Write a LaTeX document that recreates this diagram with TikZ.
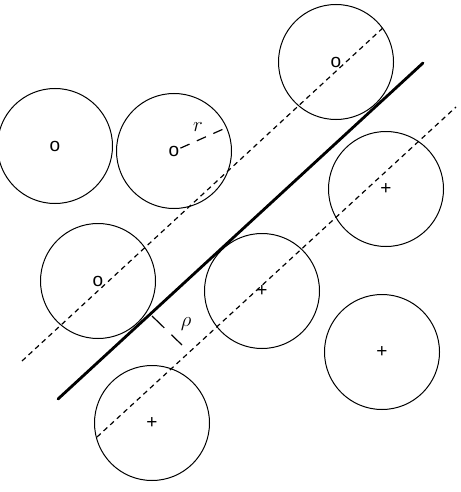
\documentclass[tikz,border=0pt]{standalone}
\usepackage{fontspec}
\setmainfont{Liberation Sans}
\usetikzlibrary{positioning}

\begin{document}
\begin{tikzpicture}[
      x=1pt, y=-1pt,
      ball/.style={draw, circle, line width=1pt, minimum size=115pt, inner sep=0pt, font=\fontsize{19}{19}\selectfont},
      plane/.style={line width=2.8pt, line cap=round},
      margin/.style={line width=1.2pt, dash pattern=on 5pt off 4pt},
      measure/.style={line width=1.2pt},
      lab/.style={font=\fontsize{21}{21}\selectfont}
    ]
    \useasboundingbox (0,0) rectangle (460,492);

    \node[ball] (o1) at (55,146) {o};
    \node[ball] (o2) at (174,151) {o};
    \node[ball] (o3) at (336,62) {o};
    \node[ball] (o4) at (98,281) {o};
    \node[ball] (p1) at (386,189) {+};
    \node[ball] (p2) at (262,291) {+};
    \node[ball] (p3) at (382,352) {+};
    \node[ball] (p4) at (152,423) {+};

    \coordinate (planeA) at (58,399);
    \coordinate (planeB) at (423,63);
    \coordinate (upA) at (22,361);
    \coordinate (upB) at (385,26);
    \coordinate (lowA) at (97,437);
    \coordinate (lowB) at (456,107);
    \coordinate (rhoA) at (152,316);
    \coordinate (rhoB) at (182,345);

    \draw[plane] (planeA) -- (planeB);
    \draw[margin] (upA) -- (upB);
    \draw[margin] (lowA) -- (lowB);

    \draw[measure, dash pattern=on 17pt off 10pt] (rhoA) -- (rhoB);
    \node[lab] (rholab) at (186,324) {$\rho$};

    \draw[measure, dash pattern=on 10pt off 8pt, shorten <=7pt] (o2.center) -- (o2.24);
    \node[lab] (rlab) at (198,127) {$r$};
  \end{tikzpicture}
\end{document}
